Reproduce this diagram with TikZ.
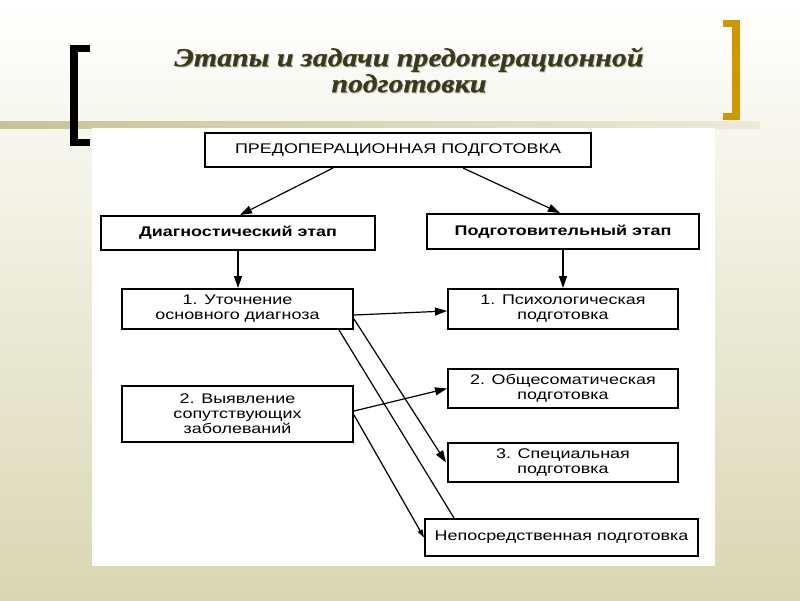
\documentclass[tikz,border=0pt]{standalone}
\usepackage{fontspec}
\setmainfont{Liberation Serif}
\newfontfamily\diagfont[FakeStretch=1.28]{Liberation Sans}
\newfontfamily\titlefam[FakeStretch=1.15,FakeBold=0.6]{Liberation Serif}
\usetikzlibrary{arrows.meta,calc}
\definecolor{goldcol}{RGB}{204,153,0}
\definecolor{titlecol}{RGB}{58,58,26}
\definecolor{bgbot}{RGB}{217,215,178}
\definecolor{bandcol}{RGB}{197,196,148}
\definecolor{bandend}{RGB}{236,235,218}
\begin{document}
\begin{tikzpicture}[x=1pt,y=-1pt,
  box/.style={draw=black, line width=2pt, fill=white, inner sep=2pt, align=center,
    font=\diagfont\fontsize{14}{15}\selectfont, text=black},
  bbox/.style={box, font=\diagfont\bfseries\fontsize{14}{15}\selectfont},
  conn/.style={line width=1.2pt, -{Triangle[length=12pt,width=8pt]}},
  plainconn/.style={line width=1.2pt},
  titlefont/.style={font=\titlefam\bfseries\itshape\fontsize{26}{26}\selectfont, align=center}]
\useasboundingbox (0,0) rectangle (800,600);
% background
\shade[top color=white, bottom color=bgbot] (0,0) rectangle (800,600);
\shade[left color=bandcol, right color=bandend] (0,121) rectangle (760,128);
\fill[white] (92,128) rectangle (715,566);
% brackets
\fill[black] (70,45) rectangle (78,146);
\fill[black] (70,45) rectangle (90,52);
\fill[black] (70,139) rectangle (90,146);
\fill[goldcol] (732,20) rectangle (740,120);
\fill[goldcol] (723,20) rectangle (740,27);
\fill[goldcol] (723,113) rectangle (740,120);
% title
\node[titlefont, text=black!25] (titleshadow) at (410,71) {Этапы и задачи предоперационной\\подготовки};
\node[titlefont, text=titlecol] (title) at (409,70) {Этапы и задачи предоперационной\\подготовки};
% boxes
\node[box, minimum width=386pt, minimum height=34pt] (top) at (398,150) {ПРЕДОПЕРАЦИОННАЯ ПОДГОТОВКА};
\node[bbox, minimum width=274pt, minimum height=34pt] (diag) at (238,233) {Диагностический этап};
\node[bbox, minimum width=272pt, minimum height=35pt] (podg) at (563,231.5) {Подготовительный этап};
\node[box, minimum width=231pt, minimum height=40pt] (utoch) at (237.5,309) {1. Уточнение\\основного диагноза};
\node[box, minimum width=231pt, minimum height=56pt] (vyyav) at (237.5,414) {2. Выявление\\сопутствующих\\заболеваний};
\node[box, minimum width=230pt, minimum height=40pt] (psych) at (563,309) {1. Психологическая\\подготовка};
\node[box, minimum width=230pt, minimum height=39pt] (obsh) at (563,388.5) {2. Общесоматическая\\подготовка};
\node[box, minimum width=230pt, minimum height=39pt] (spec) at (563,462.5) {3. Специальная\\подготовка};
\node[box, minimum width=273pt, minimum height=37pt] (nepo) at (561.5,537.5) {Непосредственная подготовка};
% connectors
\draw[conn] ([xshift=-65pt]top.south) -- ([xshift=2pt]diag.north);
\draw[conn] ([xshift=65pt]top.south) -- ([xshift=-3pt]podg.north);
\draw[conn] (diag.south) -- (diag.south |- utoch.north);
\draw[conn] (podg.south) -- (podg.south |- psych.north);
\draw[conn] ([yshift=-6pt]utoch.east) -- ([yshift=-2pt]psych.west);
\draw[conn] ([yshift=-10pt]utoch.east) -- ([xshift=-1pt]spec.west);
\draw[plainconn] ([xshift=-15pt]utoch.south east) -- ([xshift=30pt]nepo.north west);
\draw[conn] ([yshift=3pt]vyyav.east) -- (obsh.west);
\draw[line width=1.2pt, -{Triangle[length=8pt,width=5pt]}] ([yshift=-1pt]vyyav.east) -- (nepo.west);
\end{tikzpicture}
\end{document}
